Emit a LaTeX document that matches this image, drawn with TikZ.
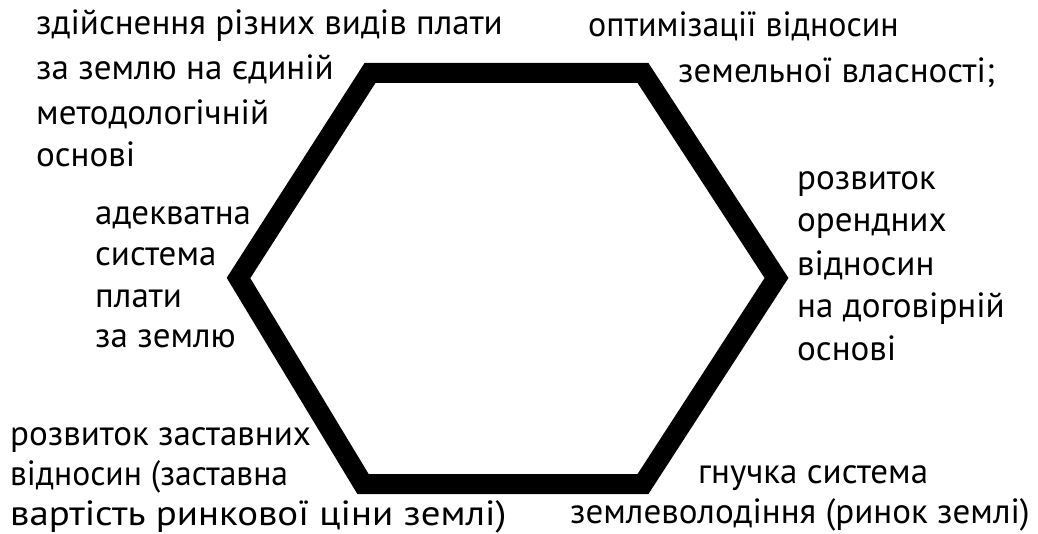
\documentclass[tikz,border=0pt]{standalone}
\usepackage{fontspec}
\usepackage{graphicx}
\setmainfont{PT Sans}
\begin{document}
\begin{tikzpicture}[x=1pt,y=-1pt,
  lbl/.style={anchor=base west,inner sep=0pt,font=\fontsize{35}{42}\selectfont},
  hex/.style={draw=black,line width=20pt,miter limit=10,line join=miter}]
\useasboundingbox (0,0) rectangle (1038,534);
\coordinate (v1) at (370,73);
\coordinate (v2) at (643,73);
\coordinate (v3) at (776.5,278);
\coordinate (v4) at (643,484);
\coordinate (v5) at (363,484);
\coordinate (v6) at (238.5,278);
\draw[hex] (v1) -- (v2) -- (v3) -- (v4) -- (v5) -- (v6) -- cycle;
% top-left
\node[lbl] (a1) at (36,35) {здійснення різних видів плати};
\node[lbl] (a2) at (36,80) {за землю на єдиній};
\node[lbl] (a3) at (36,125) {методологічній};
\node[lbl] (a4) at (36,167) {основі};
% top-right
\node[lbl] (b1) at (588,37) {\scalebox{0.97}[1]{оптимізації відносин}};
\node[lbl] (b2) at (678,83) {земельної власності;};
% left
\node[lbl] (c1) at (95,225) {адекватна};
\node[lbl] (c2) at (95,266) {система};
\node[lbl] (c3) at (95,308) {плати};
\node[lbl] (c4) at (95,348) {за землю};
% right
\node[lbl] (d1) at (797,190) {розвиток};
\node[lbl] (d2) at (797,232) {орендних};
\node[lbl] (d3) at (797,276) {відносин};
\node[lbl] (d4) at (797,318) {на договірній};
\node[lbl] (d5) at (797,360) {основі};
% bottom-left
\node[lbl] (e1) at (10,445) {розвиток заставних};
\node[lbl] (e2) at (10,485) {\scalebox{0.96}[1]{відносин (заставна}};
\node[lbl] (e3) at (10,525) {\scalebox{1.11}[1]{вартість ринкової ціни землі)}};
% bottom-right
\node[lbl] (f1) at (698,483) {гнучка система};
\node[lbl] (f2) at (570,523) {землеволодіння (ринок землі)};
\end{tikzpicture}
\end{document}
